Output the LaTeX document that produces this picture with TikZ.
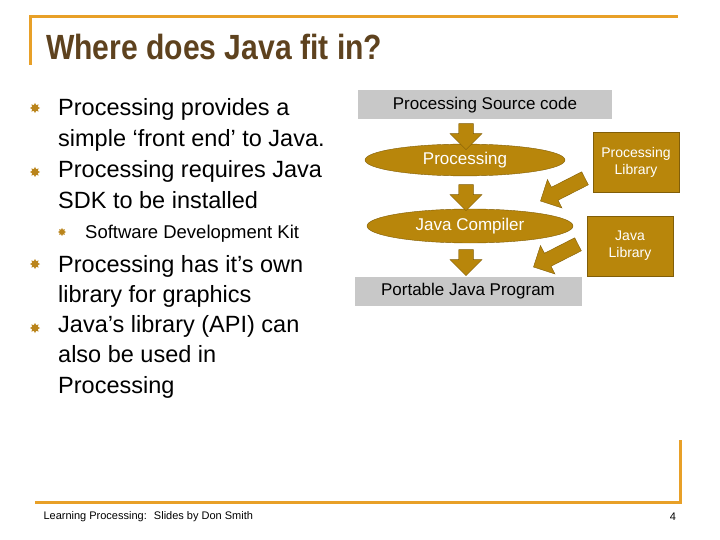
\documentclass[tikz,border=0pt]{standalone}
\usepackage{fontspec}
\setmainfont{Liberation Sans}
\usetikzlibrary{shapes.geometric,shapes.arrows}
\definecolor{gold}{RGB}{184,134,11}
\definecolor{frameorange}{RGB}{232,160,40}
\definecolor{titlebrown}{RGB}{94,66,30}
\definecolor{boxgray}{RGB}{200,200,200}
\tikzset{
  graybox/.style={fill=boxgray, minimum height=29pt, font=\fontsize{17}{19}\selectfont},
  stage/.style={ellipse, fill=gold, draw=gold!70!black, text=white, font=\fontsize{17}{19}\selectfont},
  libbox/.style={fill=gold, draw=gold!70!black, text=white, align=center, minimum width=86pt, minimum height=60pt, font=\fontsize{14}{17}\selectfont},
  blockarrow/.style={single arrow, fill=gold, draw=gold!70!black, minimum height=26pt, minimum width=32pt, single arrow head extend=5pt, inner sep=4pt},
  bullet/.style={star, star points=8, star point ratio=1.6, fill=gold!70!brown, inner sep=0pt, minimum size=#1},
  line/.style={anchor=base west, inner sep=0pt, font=\fontsize{23.5}{26}\selectfont}
}
\begin{document}
\begin{tikzpicture}[x=1pt,y=-1pt]
  \useasboundingbox (0,0) rectangle (720,540);
  % frame
  \draw[frameorange, line width=3pt] (30,65) -- (30,17) -- (678,17);
  \draw[frameorange, line width=3pt] (35,502) -- (680,502) -- (680,440);
  \node[anchor=west, text=titlebrown, font=\bfseries\fontsize{35}{38}\selectfont, xscale=0.86] (title) at (43,47) {Where does Java fit in?};
  % bullets
  \foreach \y in {108,172,264,328} \node[bullet=10pt] at (35,\y) {};
  \node[bullet=8pt] (sb) at (62,232) {};
  \foreach \t [count=\i] in {Processing provides a, simple ‘front end’ to Java., Processing requires Java, SDK to be installed} {
    \node[line] (t\i) at (58,{116+(\i-1)*30.7}) {\t};
  }
  \node[anchor=base west, inner sep=0pt, font=\fontsize{18.5}{20}\selectfont] (sub) at (85,238.5) {Software Development Kit};
  \foreach \t [count=\i] in {Processing has it’s own, library for graphics, Java’s library (API) can, also be used in, Processing} {
    \node[line] (u\i) at (58,{272+(\i-1)*30.3}) {\t};
  }
  % flow
  \node[graybox, minimum width=254pt] (src) at (485,105) {Processing Source code};
  \node[stage, minimum width=200pt, minimum height=30pt] (proc) at (465,160) {Processing};
  \node[stage, minimum width=206pt, minimum height=34pt] (comp) at (470,226) {Java Compiler};
  \node[graybox, minimum width=227pt] (prog) at (468,291) {Portable Java Program};
  \node[libbox] (plib) at (636,162) {Processing\\Library};
  \node[libbox] (jlib) at (630,246) {Java\\Library};
  \node[blockarrow, rotate=-90] (a1) at (466,133) {};
  \node[blockarrow, rotate=-90] (a2) at (466,194) {};
  \node[blockarrow, rotate=-90] (a3) at (466,259) {};
  \node[blockarrow, rotate=-153, minimum height=50pt] (a4) at (566,188) {};
  \node[blockarrow, rotate=-153, minimum height=50pt] (a5) at (559,254) {};
  % footer
  \node[anchor=west, font=\fontsize{11}{13}\selectfont] (foot) at (40,517) {Learning Processing:~ Slides by Don Smith};
  \node[font=\fontsize{11}{13}\selectfont] (page) at (673,517) {4};
\end{tikzpicture}
\end{document}
